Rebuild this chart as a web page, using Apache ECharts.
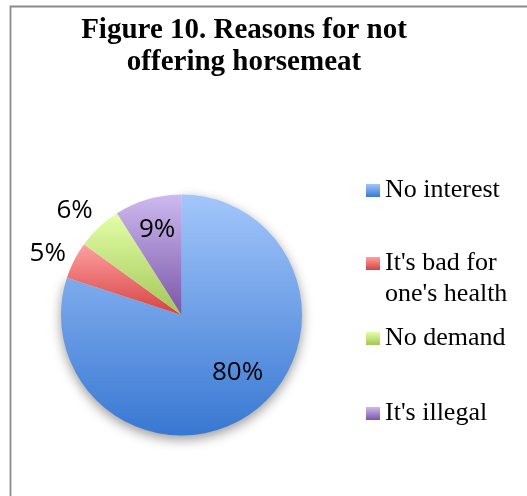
<!DOCTYPE html>
<html>
<head>
<meta charset="utf-8">
<script src="https://cdn.jsdelivr.net/npm/echarts@6/dist/echarts.min.js"></script>
<style>
  html, body { margin: 0; padding: 0; background: #ffffff; }
  #chart { width: 527px; height: 496px; }
</style>
</head>
<body>
<div id="chart"></div>
<script>
// Survey answers: why horsemeat is not offered (share of respondents, %)
const titleText = 'Figure 10. Reasons for not\noffering horsemeat';
const categories = ['No interest', "It's bad for one's health", 'No demand', "It's illegal"];
const shares = [80, 5, 6, 9];
// Legend text; the leading blank line keeps the marker level with the first line of the wrapped entry
const legendLines = ['No interest', "\nIt's bad for\none's health", 'No demand', "It's illegal"];

// Slice shading: light at the top, darker at the bottom
const sliceTop = ['#a3c6fb', '#ffa0a0', '#e3ffa8', '#cebaef'];
const sliceBottom = ['#3878d2', '#d54242', '#a2c656', '#7a56a7'];

// Pie geometry
const pieCenter = [181.5, 315];
const pieRadius = 120.5;
// Where each percentage label sits: radial distance (fraction of radius) and a small angular nudge (deg)
const labelDist = [0.67, 1.22, 1.24, 0.74];
const labelTurn = [-8, -2.5, -2.5, 0.3];

const serif = '"Liberation Serif", "Times New Roman", serif';
const sans = '"Open Sans", "Noto Sans", sans-serif';

function gradient(i) {
  return {
    type: 'linear', x: 0, y: 0, x2: 0, y2: 1,
    colorStops: [
      { offset: 0, color: sliceTop[i] },
      { offset: 1, color: sliceBottom[i] }
    ]
  };
}

const total = shares.reduce((a, b) => a + b, 0);

function labelPlace(params) {
  const i = params.dataIndex;
  let before = 0;
  for (let k = 0; k < i; k++) before += shares[k];
  const mid = ((before + shares[i] / 2) / total) * 360 + labelTurn[i];
  const rad = mid * Math.PI / 180;
  const d = pieRadius * labelDist[i];
  return {
    x: pieCenter[0] + d * Math.sin(rad),
    y: pieCenter[1] - d * Math.cos(rad),
    align: 'center',
    verticalAlign: 'middle'
  };
}

// Legend rows, positioned one by one
const legendTop = [175, 217, 323, 398];

const chart = echarts.init(document.getElementById('chart'), null, { renderer: 'canvas' });

chart.setOption({
  animation: false,
  backgroundColor: '#ffffff',
  graphic: [{
    type: 'rect',
    shape: { x: 10.5, y: 6.5, width: 540, height: 520 },
    style: { fill: 'none', stroke: '#8a8a8a', lineWidth: 1.8 },
    silent: true,
    z: -10
  }],
  title: {
    text: titleText,
    left: 244,
    top: 15,
    textAlign: 'center',
    padding: 0,
    textStyle: {
      fontFamily: serif,
      fontWeight: 'bold',
      fontSize: 29,
      lineHeight: 32,
      color: '#000000'
    }
  },
  legend: categories.map((name, i) => ({
    data: [name],
    orient: 'vertical',
    left: 366,
    top: legendTop[i],
    padding: 0,
    itemGap: 0,
    icon: 'rect',
    itemWidth: 14,
    itemHeight: 13,
    selectedMode: false,
    formatter: () => legendLines[i],
    textStyle: {
      fontFamily: serif,
      fontSize: 26,
      lineHeight: 31,
      color: '#000000'
    }
  })),
  series: [{
    type: 'pie',
    center: pieCenter,
    radius: pieRadius,
    startAngle: 90,
    clockwise: true,
    avoidLabelOverlap: false,
    emphasis: { disabled: true },
    label: {
      show: true,
      formatter: '{c}%',
      fontFamily: sans,
      fontSize: 26,
      color: '#000000'
    },
    labelLine: { show: false },
    labelLayout: labelPlace,
    data: categories.map((name, i) => ({
      name: name,
      value: shares[i],
      itemStyle: Object.assign(
        { color: gradient(i), borderWidth: 0 },
        i === 0 ? { shadowBlur: 12, shadowColor: 'rgba(0,0,0,0.4)', shadowOffsetY: 4 } : {}
      )
    }))
  }]
});
</script>
</body>
</html>
